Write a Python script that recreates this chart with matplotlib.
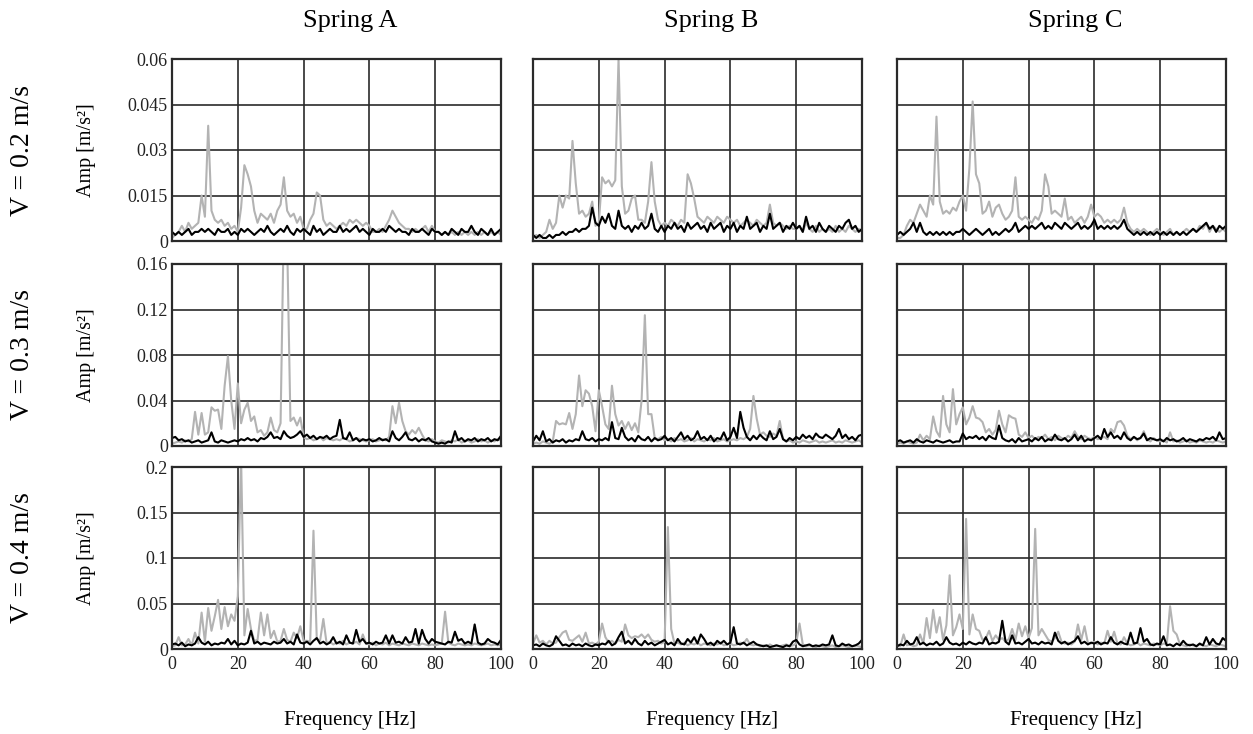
import numpy as np
import matplotlib
matplotlib.use("Agg")
import matplotlib.pyplot as plt

plt.rcParams['font.family'] = ['Liberation Serif', 'DejaVu Serif']

# frequency axis [Hz], 1 Hz steps
freq = np.arange(0, 101)

springs = ['Spring A', 'Spring B', 'Spring C']
speeds = ['V = 0.2 m/s', 'V = 0.3 m/s', 'V = 0.4 m/s']

# y axis settings per speed (values in m/s^2)
y_ticks = [[0, 0.015, 0.03, 0.045, 0.06],
           [0, 0.04, 0.08, 0.12, 0.16],
           [0, 0.05, 0.1, 0.15, 0.2]]
y_ticklabels = [['0', '0.015', '0.03', '0.045', '0.06'],
                ['0', '0.04', '0.08', '0.12', '0.16'],
                ['0', '0.05', '0.1', '0.15', '0.2']]
x_ticks = [0, 20, 40, 60, 80, 100]

# amplitude spectra, in mm/s^2 (gray / black curves)
a1_gray = [1, 2, 3, 5, 3, 6, 4, 5, 6, 15,
           8, 38, 10, 7, 6, 7, 5, 6, 4, 5,
           3, 11, 25, 22, 18, 10, 6, 9, 8, 7,
           9, 6, 10, 12, 21, 10, 8, 9, 6, 8,
           4, 4, 7, 9, 16, 15, 7, 5, 6, 5,
           4, 5, 6, 5, 7, 6, 7, 6, 5, 6,
           5, 3, 3, 4, 3, 5, 7, 10, 8, 6,
           5, 4, 4, 3, 4, 3, 4, 5, 3, 5,
           3, 3, 2, 3, 2, 3, 2, 3, 2, 3,
           2, 3, 2, 3, 2, 3, 2, 3, 2, 3,
           2]
a1_black = [3, 2, 3, 2, 3, 4, 2, 3, 3, 4,
            3, 4, 3, 2, 4, 3, 3, 4, 2, 3,
            2, 4, 3, 4, 3, 2, 3, 4, 3, 5,
            3, 2, 3, 4, 3, 5, 3, 2, 4, 3,
            4, 3, 2, 5, 3, 4, 2, 3, 4, 3,
            3, 5, 3, 4, 3, 4, 5, 3, 4, 3,
            2, 4, 3, 3, 4, 3, 5, 4, 3, 4,
            3, 3, 2, 4, 3, 3, 4, 3, 2, 4,
            3, 3, 2, 3, 2, 4, 3, 2, 4, 3,
            3, 5, 3, 2, 4, 3, 2, 4, 2, 3,
            4]
b1_gray = [1, 2, 1, 2, 3, 7, 4, 6, 15, 11,
           15, 14, 33, 19, 9, 10, 8, 9, 13, 5,
           6, 21, 19, 20, 18, 20, 60, 18, 9, 10,
           14, 15, 7, 7, 6, 13, 26, 13, 7, 5,
           6, 5, 7, 6, 5, 7, 6, 22, 19, 14,
           8, 7, 6, 8, 7, 6, 8, 7, 6, 8,
           7, 6, 7, 5, 6, 7, 6, 5, 7, 6,
           5, 6, 12, 6, 5, 6, 5, 4, 5, 4,
           4, 5, 3, 6, 4, 3, 5, 3, 4, 3,
           4, 3, 5, 3, 4, 3, 5, 4, 3, 4,
           3]
b1_black = [2, 1, 2, 1, 1, 2, 1, 2, 2, 3,
            2, 3, 3, 4, 3, 4, 4, 5, 11, 6,
            5, 8, 6, 9, 5, 4, 10, 5, 4, 5,
            3, 5, 4, 6, 4, 5, 9, 4, 3, 5,
            3, 5, 4, 6, 4, 5, 3, 6, 4, 5,
            6, 4, 5, 3, 6, 4, 5, 6, 3, 5,
            4, 6, 3, 5, 4, 8, 4, 5, 6, 3,
            5, 4, 9, 4, 5, 6, 3, 5, 4, 6,
            4, 5, 3, 8, 4, 5, 3, 6, 4, 3,
            5, 4, 3, 5, 4, 6, 7, 4, 5, 3,
            4]
c1_gray = [1, 1, 2, 5, 7, 6, 9, 12, 10, 8,
           15, 12, 41, 13, 9, 10, 9, 11, 10, 13,
           15, 10, 24, 46, 22, 19, 9, 10, 13, 8,
           11, 12, 9, 7, 8, 10, 21, 8, 7, 8,
           7, 6, 8, 7, 10, 22, 18, 9, 10, 9,
           8, 14, 7, 8, 6, 7, 8, 6, 8, 12,
           8, 9, 8, 6, 7, 6, 7, 6, 7, 11,
           6, 4, 3, 4, 3, 4, 3, 2, 3, 4,
           3, 2, 3, 4, 2, 3, 2, 3, 4, 3,
           4, 3, 5, 4, 6, 3, 5, 4, 3, 4,
           3]
c1_black = [2, 3, 2, 3, 4, 6, 3, 6, 3, 2,
            3, 2, 3, 2, 3, 2, 3, 2, 3, 3,
            4, 3, 2, 3, 4, 3, 2, 3, 4, 2,
            3, 2, 3, 4, 3, 4, 6, 3, 4, 5,
            4, 5, 4, 5, 6, 4, 5, 4, 6, 5,
            4, 6, 5, 4, 5, 6, 4, 5, 4, 5,
            7, 4, 5, 4, 5, 4, 5, 4, 5, 7,
            4, 3, 2, 3, 2, 3, 2, 3, 2, 3,
            2, 3, 2, 3, 2, 3, 2, 3, 2, 3,
            4, 3, 4, 5, 6, 4, 5, 3, 5, 4,
            5]

a2_gray = [2, 3, 4, 3, 5, 4, 6, 30, 10, 29,
           10, 12, 34, 31, 32, 15, 53, 79, 40, 15,
           55, 20, 32, 38, 22, 26, 12, 14, 9, 12,
           25, 14, 12, 20, 200, 180, 22, 25, 18, 25,
           8, 6, 7, 5, 6, 8, 5, 7, 6, 5,
           6, 5, 7, 6, 4, 5, 7, 6, 5, 4,
           5, 6, 4, 5, 6, 5, 8, 35, 20, 38,
           22, 13, 10, 14, 11, 16, 10, 5, 4, 6,
           4, 3, 5, 4, 3, 5, 4, 6, 3, 4,
           5, 3, 4, 6, 4, 5, 3, 5, 4, 6,
           5]
a2_black = [7, 8, 5, 6, 4, 5, 3, 4, 5, 3,
            4, 5, 12, 4, 3, 5, 4, 3, 4, 5,
            4, 6, 5, 7, 5, 6, 4, 7, 6, 8,
            12, 7, 8, 6, 13, 9, 7, 8, 10, 13,
            8, 10, 7, 9, 6, 8, 7, 9, 6, 8,
            9, 23, 7, 6, 12, 5, 7, 4, 6, 5,
            6, 4, 5, 7, 5, 6, 4, 13, 7, 5,
            8, 12, 6, 5, 7, 4, 6, 5, 7, 4,
            3, 2, 3, 2, 4, 3, 13, 5, 7, 4,
            6, 5, 7, 4, 6, 5, 7, 4, 6, 5,
            9]
b2_gray = [2, 3, 2, 4, 3, 2, 4, 22, 19, 20,
           19, 29, 15, 28, 62, 35, 49, 46, 35, 13,
           49, 35, 19, 15, 53, 28, 18, 22, 15, 21,
           14, 20, 12, 40, 115, 28, 28, 7, 6, 8,
           5, 6, 4, 7, 5, 6, 4, 5, 7, 4,
           6, 5, 4, 6, 5, 7, 4, 5, 6, 4,
           5, 6, 5, 7, 6, 8, 15, 44, 24, 10,
           12, 9, 8, 11, 9, 22, 6, 4, 5, 3,
           4, 3, 5, 4, 3, 4, 5, 3, 4, 3,
           4, 5, 3, 4, 3, 5, 4, 3, 4, 5,
           3]
b2_black = [4, 9, 5, 13, 4, 6, 3, 5, 4, 6,
            3, 5, 4, 6, 5, 13, 6, 5, 7, 4,
            6, 5, 7, 5, 21, 7, 6, 16, 8, 5,
            7, 4, 9, 6, 5, 8, 4, 7, 5, 6,
            9, 5, 7, 4, 8, 12, 6, 9, 5, 7,
            13, 6, 8, 5, 9, 4, 7, 6, 12, 5,
            8, 16, 7, 30, 16, 8, 5, 9, 6, 10,
            7, 5, 13, 6, 8, 15, 6, 4, 7, 5,
            8, 6, 10, 7, 9, 6, 11, 8, 7, 10,
            8, 6, 9, 15, 7, 10, 6, 8, 5, 9,
            10]
c2_gray = [2, 3, 2, 4, 3, 2, 3, 10, 5, 9,
           6, 26, 13, 8, 44, 19, 12, 50, 19, 28,
           34, 19, 25, 35, 25, 24, 21, 12, 15, 10,
           14, 31, 19, 12, 27, 25, 24, 10, 8, 12,
           7, 9, 6, 8, 7, 10, 6, 8, 5, 9,
           7, 6, 9, 7, 13, 8, 6, 9, 7, 6,
           8, 6, 7, 8, 6, 15, 12, 21, 22, 18,
           9, 6, 8, 5, 7, 13, 6, 4, 7, 5,
           4, 5, 3, 12, 4, 5, 3, 4, 5, 3,
           4, 3, 5, 4, 3, 4, 3, 5, 4, 3,
           4]
c2_black = [4, 5, 3, 4, 5, 3, 6, 4, 3, 5,
            4, 3, 5, 4, 3, 4, 5, 3, 4, 4,
            11, 6, 8, 7, 9, 6, 8, 5, 9, 7,
            6, 18, 7, 5, 4, 6, 3, 7, 4, 5,
            6, 4, 7, 5, 8, 4, 6, 5, 10, 6,
            5, 7, 4, 6, 10, 5, 9, 4, 6, 5,
            7, 9, 6, 15, 8, 12, 7, 9, 6, 12,
            7, 5, 8, 6, 7, 11, 5, 7, 6, 5,
            6, 4, 7, 5, 6, 4, 5, 7, 4, 6,
            5, 4, 6, 5, 7, 6, 8, 5, 12, 6,
            7]

a3_gray = [3, 4, 13, 4, 5, 11, 4, 18, 6, 40,
           8, 45, 20, 36, 54, 22, 46, 25, 38, 31,
           58, 210, 15, 44, 22, 9, 10, 40, 15, 38,
           12, 20, 8, 9, 22, 10, 8, 18, 12, 25,
           9, 9, 8, 130, 11, 9, 33, 6, 8, 5,
           7, 6, 9, 5, 7, 6, 8, 5, 16, 6,
           5, 7, 4, 6, 5, 7, 4, 6, 5, 4,
           6, 5, 4, 6, 5, 4, 6, 5, 4, 5,
           4, 5, 6, 41, 7, 5, 4, 6, 5, 4,
           5, 4, 6, 5, 4, 5, 6, 4, 5, 4,
           5]
a3_black = [5, 6, 4, 7, 3, 5, 4, 6, 13, 7,
            5, 8, 4, 6, 5, 7, 6, 11, 5, 9,
            4, 6, 5, 7, 20, 6, 8, 5, 7, 6,
            5, 8, 6, 7, 11, 6, 8, 5, 16, 7,
            6, 8, 5, 9, 12, 6, 8, 5, 7, 13,
            6, 8, 5, 15, 7, 6, 21, 8, 11, 6,
            7, 5, 8, 6, 7, 15, 6, 15, 7, 8,
            6, 13, 7, 8, 22, 6, 21, 11, 6, 11,
            8, 7, 6, 5, 8, 7, 19, 9, 11, 6,
            8, 6, 27, 7, 5, 6, 11, 8, 7, 5,
            10]
b3_gray = [6, 15, 7, 9, 5, 9, 6, 7, 13, 18,
           20, 10, 9, 12, 15, 8, 18, 6, 7, 5,
           8, 28, 13, 7, 9, 6, 10, 8, 27, 15,
           12, 14, 13, 16, 12, 16, 10, 8, 9, 6,
           8, 134, 22, 6, 7, 5, 7, 4, 6, 5,
           7, 4, 6, 5, 4, 6, 5, 7, 4, 5,
           6, 4, 5, 7, 6, 11, 5, 4, 5, 3,
           4, 3, 5, 3, 4, 3, 4, 5, 3, 4,
           6, 28, 5, 3, 4, 3, 2, 4, 3, 2,
           3, 4, 2, 3, 4, 3, 2, 3, 4, 3,
           2]
b3_black = [4, 5, 3, 6, 4, 3, 5, 14, 9, 4,
            5, 3, 6, 4, 5, 3, 6, 4, 3, 5,
            4, 6, 5, 9, 4, 6, 13, 19, 6, 9,
            5, 11, 6, 4, 9, 5, 7, 4, 6, 8,
            10, 5, 7, 4, 11, 6, 5, 11, 7, 13,
            6, 16, 11, 5, 7, 4, 9, 6, 9, 5,
            7, 24, 6, 5, 7, 4, 6, 8, 5, 4,
            3, 4, 2, 3, 4, 3, 2, 4, 3, 8,
            10, 5, 3, 4, 5, 3, 4, 3, 5, 4,
            5, 15, 4, 3, 6, 4, 5, 3, 4, 6,
            10]
c3_gray = [4, 3, 16, 4, 5, 3, 4, 16, 6, 34,
           12, 43, 18, 35, 10, 26, 81, 15, 24, 38,
           22, 143, 16, 38, 22, 20, 10, 12, 20, 9,
           15, 10, 12, 8, 11, 22, 10, 28, 14, 25,
           12, 23, 132, 15, 22, 16, 10, 8, 12, 19,
           8, 6, 7, 5, 8, 27, 10, 25, 7, 6,
           8, 5, 7, 6, 20, 8, 19, 6, 5, 13,
           6, 4, 5, 7, 4, 6, 5, 4, 6, 5,
           4, 6, 5, 47, 20, 16, 5, 4, 3, 5,
           4, 3, 5, 4, 3, 5, 4, 3, 5, 4,
           3]
c3_black = [3, 5, 4, 9, 5, 6, 13, 5, 7, 4,
            6, 5, 8, 4, 6, 13, 7, 5, 6, 4,
            7, 5, 8, 6, 5, 7, 6, 13, 5, 7,
            6, 8, 31, 8, 5, 15, 6, 7, 5, 8,
            11, 6, 7, 5, 8, 6, 7, 5, 18, 9,
            6, 8, 5, 7, 9, 14, 6, 8, 5, 7,
            6, 8, 5, 7, 6, 13, 7, 5, 8, 6,
            5, 18, 6, 7, 23, 8, 11, 5, 4, 6,
            5, 14, 4, 5, 3, 6, 4, 9, 5, 4,
            5, 3, 6, 4, 13, 5, 11, 6, 5, 12,
            9]

gray_series = [[a1_gray, b1_gray, c1_gray],
               [a2_gray, b2_gray, c2_gray],
               [a3_gray, b3_gray, c3_gray]]
black_series = [[a1_black, b1_black, c1_black],
                [a2_black, b2_black, c2_black],
                [a3_black, b3_black, c3_black]]

W, H = 1253, 734
fig = plt.figure(figsize=(W / 100, H / 100), dpi=100)

col_left = [172, 533, 897]
row_top = [59, 264, 467]
ax_w, ax_h = 329, 182

for r in range(3):
    for c in range(3):
        ax = fig.add_axes([col_left[c] / W, 1 - (row_top[r] + ax_h) / H,
                           ax_w / W, ax_h / H])
        ax.plot(freq, np.array(gray_series[r][c]) / 1000, color='#b3b3b3', lw=1.5)
        ax.plot(freq, np.array(black_series[r][c]) / 1000, color='black', lw=1.5)
        ax.set_xlim(0, 100)
        ax.set_ylim(y_ticks[r][0], y_ticks[r][-1])
        ax.set_xticks(x_ticks)
        ax.set_yticks(y_ticks[r])
        ax.grid(True, color='#2a2a2a', lw=1.2)
        for s in ax.spines.values():
            s.set_color('#2a2a2a')
            s.set_linewidth(1.6)
        ax.tick_params(length=0, labelsize=13, colors='#222222')
        ax.tick_params(axis='y', pad=3)
        ax.tick_params(axis='x', pad=5)
        if c == 0:
            ax.set_yticklabels(y_ticklabels[r])
        else:
            ax.set_yticklabels([])
        if r == 2:
            ax.set_xticklabels([str(t) for t in x_ticks])
        else:
            ax.set_xticklabels([])

for c in range(3):
    xc = (col_left[c] + ax_w / 2 + 14) / W
    fig.text(xc, 1 - 27 / H, springs[c], ha='center', va='baseline', fontsize=19)
    fig.text(xc, 1 - 725 / H, 'Frequency [Hz]', ha='center', va='baseline', fontsize=15)

for r in range(3):
    yc = 1 - (row_top[r] + ax_h / 2) / H
    fig.text(23 / W, yc, speeds[r], rotation=90, ha='center', va='center', fontsize=20)
    fig.text(86 / W, yc, 'Amp [m/s²]', rotation=90, ha='center', va='center', fontsize=14.5)

fig.savefig('out.png', dpi=100)
